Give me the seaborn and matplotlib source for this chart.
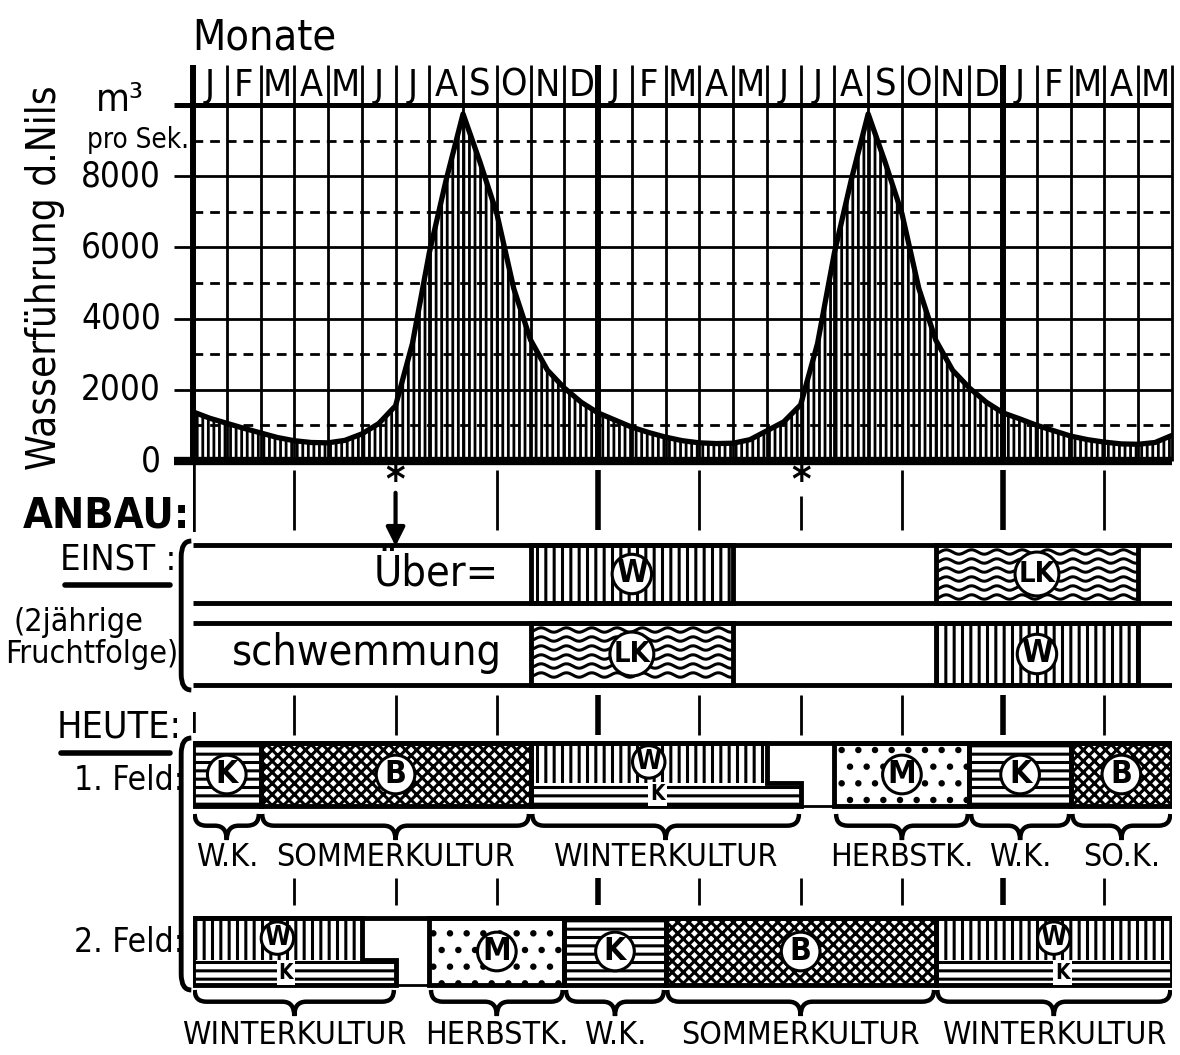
import numpy as np
import pandas as pd
import matplotlib.pyplot as plt
import seaborn as sns
from matplotlib.path import Path
from matplotlib.patches import Rectangle, PathPatch, Polygon

sns.set_theme(style='white')
plt.rcParams['font.family'] = ['DejaVu Sans']
plt.rcParams['font.stretch'] = 'condensed'
plt.rcParams['text.color'] = 'black'
plt.rcParams['hatch.color'] = 'black'

# month letters along the top (Jan year 1 .. May year 3)
month_letters = ['J', 'F', 'M', 'A', 'M', 'J', 'J', 'A', 'S', 'O', 'N', 'D',
                 'J', 'F', 'M', 'A', 'M', 'J', 'J', 'A', 'S', 'O', 'N', 'D',
                 'J', 'F', 'M', 'A', 'M']

# Nile discharge (m3/s), read every half month
flow_month = np.arange(0, 29.5, 0.5)
flow = [1380, 1200, 1060, 920, 790, 660, 570, 520, 510, 580, 760, 1050,
        1550, 3300, 5850, 7900, 9750, 8400, 6950, 4850, 3400, 2550, 2050, 1650,
        1350, 1150, 950, 800, 670, 570, 510, 490, 500, 600, 850, 1100,
        1580, 3300, 5850, 7900, 9750, 8400, 6950, 4850, 3400, 2550, 2050, 1650,
        1350, 1180, 1000, 850, 700, 600, 530, 480, 470, 520, 720]

y_ticks = [0, 2000, 4000, 6000, 8000]
flood_start = [6, 18]

# old 2-year rotation (basin irrigation)
einst1_crop = ['W', 'LK']
einst1_start = [10, 22]
einst1_end = [16, 28]
einst2_crop = ['LK', 'W']
einst2_start = [10, 22]
einst2_end = [16, 28]

# today: two fields
feld1_crop = ['K', 'B', 'WK', 'M', 'K', 'B']
feld1_start = [0, 2, 10, 19, 23, 26]
feld1_end = [2, 10, 18, 23, 26, 29]
feld1_wend = [None, None, 17, None, None, None]
feld1_group = ['W.K.', 'SOMMERKULTUR', 'WINTERKULTUR', 'HERBSTK.', 'W.K.', 'SO.K.']

feld2_crop = ['WK', 'M', 'K', 'B', 'WK']
feld2_start = [0, 7, 11, 14, 22]
feld2_end = [6, 11, 14, 22, 29]
feld2_wend = [5, None, None, None, 29]
feld2_group = ['WINTERKULTUR', 'HERBSTK.', 'W.K.', 'SOMMERKULTUR', 'WINTERKULTUR']

hatches = {'W': '||', 'K': '--', 'B': 'xxx', 'M': '.'}

W, H = 1180, 1055
fig = plt.figure(figsize=(W / 100, H / 100), dpi=100)
fig.patch.set_facecolor('white')


def fx(px):
    return px / W


def fy(py):
    return 1 - py / H


L, R = 193, 1172
ax = fig.add_axes([fx(L), fy(461), fx(R) - fx(L), fy(105) - fy(461)])
ax.set_xlim(0, 29)
ax.set_ylim(0, 10000)
ax.axis('off')
per_px = 10000 / 356.0
label_top = 10000 + 40 * per_px

df = pd.DataFrame({'month': flow_month, 'flow': flow})
with plt.rc_context({'hatch.linewidth': 2.0}):
    ax.fill_between(df['month'], df['flow'], 0, facecolor='white',
                    edgecolor='black', hatch='|||', lw=0, zorder=2)
sns.lineplot(data=df, x='month', y='flow', ax=ax, color='black', lw=3.8, zorder=6)
ax.set_xlabel('')
ax.set_ylabel('')

# grid
for v in range(1000, 10000, 2000):
    ax.hlines(v, 0, 29, colors='black', lw=2, linestyles=(0, (3.5, 2.5)), zorder=3)
for v in [2000, 4000, 6000, 8000]:
    ax.hlines(v, -0.55, 29, colors='black', lw=2, zorder=3, clip_on=False)
ax.hlines(10000, -0.55, 29, colors='black', lw=3.6, zorder=4, clip_on=False)
ax.hlines(0, -0.55, 29, colors='black', lw=6, zorder=7, clip_on=False)
for m in range(30):
    lw = 4.3 if m in (0, 12, 24) else 2
    ax.vlines(m, 0, label_top, colors='black', lw=lw, zorder=4, clip_on=False)
for i, s in enumerate(month_letters):
    ax.text(i + 0.5, 10000 + 19 * per_px, s, ha='center', va='center', fontsize=27)
for v in y_ticks:
    ax.text(-0.95, v, str(v), ha='right', va='center', fontsize=25)

fig.text(fx(192), fy(38), 'Monate', ha='left', va='center', fontsize=31)
fig.text(fx(120), fy(100), 'm³', ha='center', va='center', fontsize=28)
fig.text(fx(138), fy(140), 'pro Sek.', ha='center', va='center', fontsize=20)
fig.text(fx(45), fy(278), 'Wasserführung d.Nils', rotation=90, ha='center', va='center', fontsize=29)

# lower part: x in months, y in pixels
ax2 = fig.add_axes([fx(L), 0, fx(R) - fx(L), fy(461)])
ax2.set_xlim(0, 29)
ax2.set_ylim(H, 461)
ax2.axis('off')


def ticks(months, y0, y1, thick=(0, 12, 24)):
    for m in months:
        ax2.vlines(m, y0, y1, colors='black', lw=4 if m in thick else 2)


ticks([0], 461, 532)
ticks([3, 9, 12, 15, 21, 24, 27], 470, 530)
ticks([18], 496, 530)
ticks([0], 712, 733)
ticks([3, 6, 9, 12, 15, 18, 21, 24, 27], 695, 735)
ticks([3, 6, 9, 12, 15, 18, 21, 24, 27], 878, 905)
for m in flood_start:
    ax2.text(m, 482, '*', ha='center', va='center', fontsize=30, weight='bold')
ax2.annotate('', xy=(flood_start[0], 549), xytext=(flood_start[0], 490),
             arrowprops=dict(arrowstyle='-|>', lw=3, color='black', mutation_scale=28))


def badge(x, y, s, fs=23):
    ax2.text(x, y, s, ha='center', va='center', fontsize=fs, zorder=8, weight='bold',
             bbox=dict(boxstyle='circle,pad=0.12', fc='white', ec='black', lw=2.2))


def wavy(x0, x1, y0, y1):
    xs = np.linspace(x0, x1, 300)
    clip = Rectangle((x0, y0), x1 - x0, y1 - y0, transform=ax2.transData)
    for yy in np.arange(y0 + 7, y1 - 2, 9):
        ln, = ax2.plot(xs, yy + 2.2 * np.sin(xs * 2 * np.pi / 0.75), color='black', lw=2.2, zorder=3)
        ln.set_clip_path(clip)


def block(crop, x0, x1, y0, y1, wend=None):
    if crop == 'LK':
        ax2.add_patch(Rectangle((x0, y0), x1 - x0, y1 - y0, fc='white', lw=0, zorder=2))
        wavy(x0, x1, y0, y1)
        badge((x0 + x1) / 2, (y0 + y1) / 2, 'LK', fs=21)
    elif crop == 'WK':
        ys = y0 + 0.63 * (y1 - y0)
        with plt.rc_context({'hatch.linewidth': 2.2}):
            ax2.add_patch(Rectangle((x0, y0), wend - x0, ys - y0, fc='white', ec='black',
                                    hatch=hatches['W'], lw=0, zorder=2))
            ax2.add_patch(Rectangle((x0, ys), x1 - x0, y1 - ys, fc='white', ec='black',
                                    hatch=hatches['K'], lw=0, zorder=2))
        ax2.add_patch(Polygon([(x0, y0), (wend, y0), (wend, ys), (x1, ys), (x1, y1), (x0, y1)],
                              closed=True, fill=False, ec='black', lw=3.5, zorder=5))
        xc = (x0 + wend) / 2
        badge(xc, y0 + 0.3 * (y1 - y0), 'W', fs=19)
        ax2.text(xc + 0.25, (ys + y1) / 2, 'K', ha='center', va='center', fontsize=15,
                 weight='bold', zorder=8,
                 bbox=dict(boxstyle='square,pad=0.1', fc='white', ec='none'))
        return
    else:
        with plt.rc_context({'hatch.linewidth': 2.2}):
            ax2.add_patch(Rectangle((x0, y0), x1 - x0, y1 - y0, fc='white', ec='black',
                                    hatch=hatches[crop], lw=0, zorder=2))
        badge((x0 + x1) / 2, (y0 + y1) / 2, crop)
    ax2.add_patch(Rectangle((x0, y0), x1 - x0, y1 - y0, fill=False, ec='black', lw=3.5, zorder=5))


def brace(x0, x1, ytop, depth=26, d=0.35):
    xc = (x0 + x1) / 2
    ym = ytop + depth * 0.45
    verts = [(x0, ytop), (x0, ym), (x0 + d, ym), (xc - d, ym), (xc, ym), (xc, ytop + depth),
             (xc, ym), (xc + d, ym), (x1 - d, ym), (x1, ym), (x1, ytop)]
    codes = [Path.MOVETO, Path.CURVE3, Path.CURVE3, Path.LINETO, Path.CURVE3, Path.CURVE3,
             Path.CURVE3, Path.CURVE3, Path.LINETO, Path.CURVE3, Path.CURVE3]
    ax2.add_patch(PathPatch(Path(verts, codes), fill=False, ec='black', lw=3.2))


def bracket(xl, y0, y1, r=16):
    verts = [(-0.05, y0), (xl, y0), (xl, y0 + r), (xl, y1 - r), (xl, y1), (-0.05, y1)]
    codes = [Path.MOVETO, Path.CURVE3, Path.CURVE3, Path.LINETO, Path.CURVE3, Path.CURVE3]
    ax2.add_patch(PathPatch(Path(verts, codes), fill=False, ec='black', lw=3.5, clip_on=False))


# EINST rows
rows_einst = [(545, 603, einst1_crop, einst1_start, einst1_end),
              (623, 685, einst2_crop, einst2_start, einst2_end)]
for y0, y1, crops, starts, ends in rows_einst:
    ax2.hlines([y0, y1], 0, 29, colors='black', lw=3.5, zorder=4)
    for c, a, b in zip(crops, starts, ends):
        block(c, a, b, y0, y1)
ax2.text(9.05, 574, 'Über=', ha='right', va='center', fontsize=31)
ax2.text(9.15, 653, 'schwemmung', ha='right', va='center', fontsize=31)
bracket(-0.35, 541, 690)

# HEUTE rows
rows_heute = [(743, 806, feld1_crop, feld1_start, feld1_end, feld1_wend, feld1_group, 814, 858),
              (918, 985, feld2_crop, feld2_start, feld2_end, feld2_wend, feld2_group, 990, 1035)]
for y0, y1, crops, starts, ends, wends, groups, yb, yl in rows_heute:
    ax2.hlines(y0, 0, 29, colors='black', lw=3.5, zorder=4)
    ax2.hlines(y1, 0, 29, colors='black', lw=2, zorder=4)
    for c, a, b, we in zip(crops, starts, ends, wends):
        block(c, a, b, y0, y1, we)
    for g, a, b in zip(groups, starts, ends):
        brace(a + 0.05, b - 0.05, yb)
        ax2.text((a + b) / 2, yl, g, ha='center', va='center', fontsize=23)
bracket(-0.35, 738, 990)

# left-hand labels
fig.text(fx(190), fy(515), 'ANBAU:', ha='right', va='center', fontsize=31, weight='bold')
fig.text(fx(176), fy(560), 'EINST :', ha='right', va='center', fontsize=26)
fig.lines.append(plt.Line2D([fx(65), fx(170)], [fy(585), fy(585)], lw=4, color='black',
                            transform=fig.transFigure, figure=fig))
fig.text(fx(14), fy(622), '(2jährige', ha='left', va='center', fontsize=23)
fig.text(fx(178), fy(655), 'Fruchtfolge)', ha='right', va='center', fontsize=23)
fig.text(fx(182), fy(728), 'HEUTE:', ha='right', va='center', fontsize=27)
fig.lines.append(plt.Line2D([fx(61), fx(170)], [fy(753), fy(753)], lw=4, color='black',
                            transform=fig.transFigure, figure=fig))
fig.text(fx(184), fy(780), '1. Feld:', ha='right', va='center', fontsize=24)
fig.text(fx(184), fy(943), '2. Feld:', ha='right', va='center', fontsize=24)

fig.savefig('out.png', dpi=100, facecolor='white')
